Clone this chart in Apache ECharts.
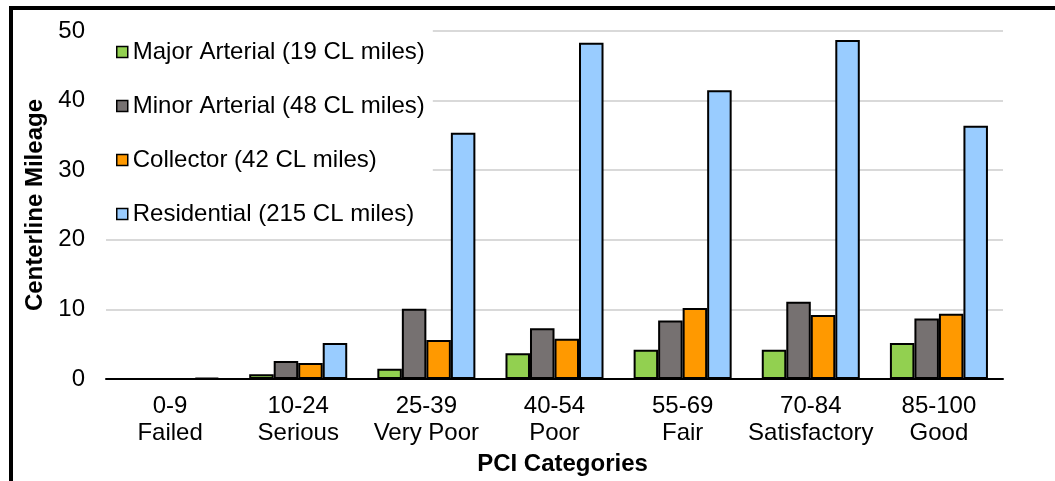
<!DOCTYPE html>
<html>
<head>
<meta charset="utf-8">
<title>Centerline Mileage by PCI Category</title>
<script src="https://cdn.jsdelivr.net/npm/echarts@6/dist/echarts.min.js"></script>
<style>
  html, body { margin: 0; padding: 0; background: #fff; overflow: hidden; }
  #chart { width: 1055px; height: 481px; }
</style>
</head>
<body>
<div id="chart"></div>
<script>
// PCI condition bands (range + rating)
const categories = ['0-9\nFailed', '10-24\nSerious', '25-39\nVery Poor', '40-54\nPoor', '55-69\nFair', '70-84\nSatisfactory', '85-100\nGood'];

// Centerline miles per functional class in each PCI band
const majorArterial = [0, 0.7, 1.5, 3.7, 4.2, 4.2, 5.2];
const minorArterial = [0, 2.6, 10.1, 7.3, 8.4, 11.1, 8.7];
const collector     = [0, 2.3, 5.6, 5.8, 10.2, 9.2, 9.4];
const residential   = [0.2, 5.2, 35.4, 48.3, 41.5, 48.7, 36.4];

const seriesNames = [
  'Major Arterial (19 CL miles)',
  'Minor Arterial (48 CL miles)',
  'Collector (42 CL miles)',
  'Residential (215 CL miles)'
];

const yTicks = { min: 0, max: 50, interval: 10 };

const FONT = "'Liberation Sans', Arial, sans-serif";
const colors = ['#92d050', '#767171', '#ff9900', '#99ccff'];
const values = [majorArterial, minorArterial, collector, residential];

const chart = echarts.init(document.getElementById('chart'), null, { renderer: 'canvas' });

chart.setOption({
  animation: false,
  backgroundColor: '#fff',
  textStyle: { fontFamily: FONT },
  graphic: [{
    // outer frame of the chart area
    type: 'rect',
    shape: { x: 11, y: 8, width: 1200, height: 700 },
    style: { fill: 'none', stroke: '#000', lineWidth: 4 },
    silent: true,
    z: 0
  }],
  grid: { left: 106, width: 897, top: 31, height: 352, containLabel: false },
  legend: {
    orient: 'vertical',
    left: 106,
    top: 28,
    padding: [12, 8, 10, 10],
    backgroundColor: '#fff',
    itemWidth: 11,
    itemHeight: 11,
    itemGap: 30,
    icon: 'rect',
    itemStyle: { borderColor: '#000', borderWidth: 1.5 },
    textStyle: { fontFamily: FONT, fontSize: 24, color: '#000', lineHeight: 24 },
    z: 5,
    data: seriesNames
  },
  xAxis: {
    type: 'category',
    data: categories,
    axisTick: { show: false },
    axisLine: { lineStyle: { color: '#000', width: 2 } },
    axisLabel: {
      fontFamily: FONT, fontSize: 24, color: '#000', lineHeight: 27, margin: 14, interval: 0
    },
    name: 'PCI Categories',
    nameLocation: 'middle',
    nameGap: 70,
    nameTextStyle: { fontFamily: FONT, fontSize: 24, fontWeight: 'bold', color: '#000', padding: [0, 0, 0, 16] }
  },
  yAxis: {
    type: 'value',
    min: yTicks.min,
    max: yTicks.max,
    interval: yTicks.interval,
    axisLine: { show: false },
    axisTick: { show: false },
    splitLine: { lineStyle: { color: '#d9d9d9', width: 2 } },
    axisLabel: { fontFamily: FONT, fontSize: 24, color: '#000', margin: 21 },
    name: 'Centerline Mileage',
    nameLocation: 'middle',
    nameGap: 53,
    nameTextStyle: { fontFamily: FONT, fontSize: 24, fontWeight: 'bold', color: '#000' }
  },
  series: seriesNames.map((name, i) => ({
    name,
    type: 'bar',
    data: values[i],
    barGap: '0%',
    barCategoryGap: '23.5%',
    itemStyle: { color: colors[i], borderColor: '#000', borderWidth: 2 },
    z: 2
  }))
});
</script>
</body>
</html>
